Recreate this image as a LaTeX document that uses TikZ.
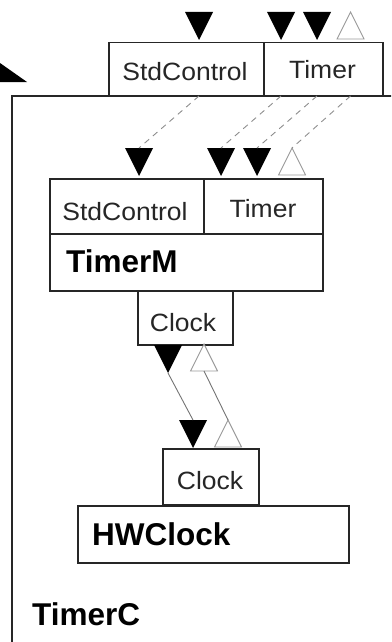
\documentclass[tikz,border=0pt]{standalone}
\usepackage{fontspec}
\setmainfont{Liberation Sans}
\newfontfamily\labfont[FakeStretch=1.06]{Liberation Sans}
\begin{document}
\begin{tikzpicture}[x=1pt,y=-1pt,
  box/.style={draw=black!85, line width=1.5pt, inner sep=0pt, anchor=north west},
  lab/.style={font=\labfont\fontsize{25}{25}\selectfont, text=black!85, inner sep=0pt, anchor=base},
  blab/.style={font=\fontsize{31.5}{31.5}\selectfont\bfseries, inner sep=0pt, anchor=base west},
  conn/.style={draw=black!55, line width=0.9pt},
  dconn/.style={draw=black!45, line width=0.9pt, dash pattern=on 6pt off 5pt},
  ftri/.pic={\fill[black] (-14,0) -- (14,0) -- (0,28) -- cycle;},
  otri/.pic={\draw[black!40, line width=0.9pt, fill=white] (-13.5,0) -- (13.5,0) -- (0,-27) -- cycle;},
]
\useasboundingbox (0,0) rectangle (391,642);
\clip (0,0) rectangle (391,642);

% cropped arrowhead at left
\fill[black] (-1,62.3) -- (27,82) -- (-1,82) -- cycle;

% outer configuration TimerC
\node[box, minimum width=420pt, minimum height=600pt] (timerc) at (11,95) {};
\node[blab] (timerclab) at (32,625) {TimerC};

% top interfaces
\node[box, minimum width=155pt, minimum height=53pt] (topstd) at (108,42) {};
\node[box, minimum width=119pt, minimum height=53pt] (toptimer) at (263,42) {};
\node[lab] (topstdlab) at (185,80) {StdControl};
\node[lab] (toptimerlab) at (322.5,78) {Timer};

% top arrowheads
\pic at (199,12) {ftri};
\pic at (281,12) {ftri};
\pic at (317,12) {ftri};
\pic at (350.5,39) {otri};

% TimerM
\node[box, minimum width=154pt, minimum height=55pt] (mstd) at (49,178) {};
\node[box, minimum width=119pt, minimum height=55pt] (mtimer) at (203,178) {};
\node[box, minimum width=273pt, minimum height=57pt] (timerm) at (49,233) {};
\node[lab] (mstdlab) at (125,220) {StdControl};
\node[lab] (mtimerlab) at (263,217) {Timer};
\node[blab] (timermlab) at (66,272) {TimerM};

\pic at (139,148) {ftri};
\pic at (221,148) {ftri};
\pic at (257,148) {ftri};
\pic at (292,175) {otri};

% dashed wiring
\coordinate (d1a) at (199,96);  \coordinate (d1b) at (139,148);
\coordinate (d2a) at (281,96);  \coordinate (d2b) at (221,148);
\coordinate (d3a) at (317,96);  \coordinate (d3b) at (257,148);
\coordinate (d4a) at (350.5,96);\coordinate (d4b) at (292,148);
\draw[dconn] (d1a) -- (d1b);
\draw[dconn] (d2a) -- (d2b);
\draw[dconn] (d3a) -- (d3b);
\draw[dconn] (d4a) -- (d4b);

% Clock of TimerM
\node[box, minimum width=95pt, minimum height=54pt] (mclock) at (137,290) {};
\node[lab] (mclocklab) at (183,331) {Clock};
\pic at (168,345) {ftri};
\pic at (204,371) {otri};

% HWClock
\node[box, minimum width=96pt, minimum height=56pt] (hclock) at (162,448) {};
\node[lab] (hclocklab) at (210,489) {Clock};
\node[box, minimum width=271pt, minimum height=57pt] (hwclock) at (77,505) {};
\node[blab] (hwclocklab) at (92,545) {HWClock};
\pic at (193,420) {ftri};
\pic at (228,447) {otri};

% solid wiring
\coordinate (c1a) at (168,373); \coordinate (c1b) at (193,420);
\coordinate (c2a) at (204,371); \coordinate (c2b) at (228,420);
\draw[conn] (c1a) -- (c1b);
\draw[conn] (c2a) -- (c2b);
\end{tikzpicture}
\end{document}
